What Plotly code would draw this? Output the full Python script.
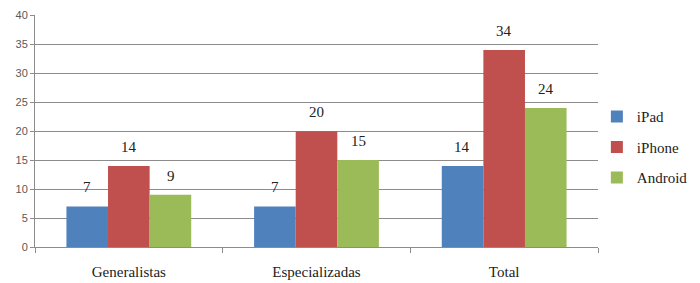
import plotly.graph_objects as go

categories = ["Generalistas", "Especializadas", "Total"]
series_names = ["iPad", "iPhone", "Android"]
ipad = [7, 7, 14]
iphone = [14, 20, 34]
android = [9, 15, 24]
colors = ["#4F81BD", "#C0504D", "#9BBB59"]
y_ticks = [0, 5, 10, 15, 20, 25, 30, 35, 40]

values = [ipad, iphone, android]
serif = "Liberation Serif"

fig = go.Figure()
for i, (name, vals, col) in enumerate(zip(series_names, values, colors)):
    fig.add_trace(go.Bar(
        x=categories, y=vals, name=name, marker_color=col,
        marker_line_width=0, legendgroup=name,
    ))

# data labels above bars
bar_px = 42
for i, vals in enumerate(values):
    for cat, v in zip(categories, vals):
        fig.add_annotation(
            x=cat, y=v, text=str(v), showarrow=False,
            xshift=(i - 1) * bar_px, yanchor="bottom", yshift=9,
            font=dict(family=serif, size=15, color="#222222"),
        )

fig.update_layout(
    width=692, height=275,
    margin=dict(l=27, r=100, t=7, b=36),
    paper_bgcolor="white", plot_bgcolor="white",
    barmode="group", bargap=0.335, bargroupgap=0,
    showlegend=True,
    legend=dict(
        x=0.998, y=0.43, xanchor="left", yanchor="middle",
        font=dict(family=serif, size=15, color="#222222"),
        tracegroupgap=8, itemwidth=30,
        bgcolor="rgba(0,0,0,0)",
    ),
    xaxis=dict(
        automargin=False,
        showline=True, linecolor="#8c8c8c", linewidth=1,
        ticks="outside", tickson="boundaries", ticklen=5, tickcolor="#8c8c8c",
        tickfont=dict(family=serif, size=15, color="#222222"),
        ticklabelstandoff=11,
        showgrid=False,
    ),
    yaxis=dict(
        automargin=False,
        range=[0, 40.05], tickvals=y_ticks,
        ticklabeloverflow="allow",
        showline=True, linecolor="#8c8c8c", linewidth=1,
        ticks="outside", ticklen=4, tickcolor="#8c8c8c",
        tickfont=dict(family="Liberation Sans", size=11, color="#595959"),
        showgrid=True, gridcolor="#8c8c8c", gridwidth=1,
        zeroline=False,
    ),
)

fig.write_html("out.html")
